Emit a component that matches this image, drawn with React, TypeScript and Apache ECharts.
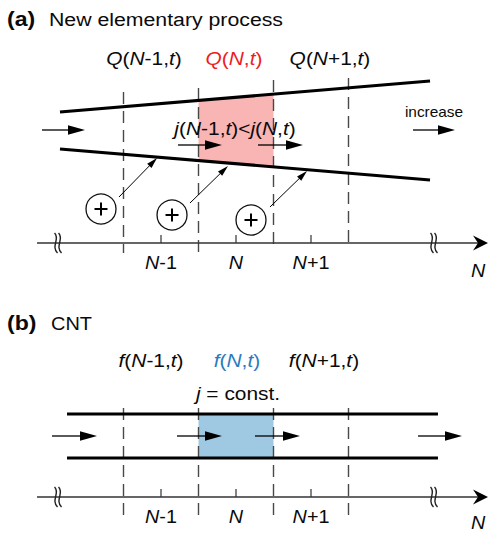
import React, { useEffect, useRef } from 'react';
import * as echarts from 'echarts';

// ---- scales: x in cell units (cell N at 0), y in diagram units (0 = top, downwards)
const X_MIN = -3.1467;
const X_MAX = 3.36;
const Y_MIN = 0;
const Y_MAX = 534;

// ---- shared cell structure
const cellCenters = [-1, 0, 1];
const cellLabels = ['{i|N}-1', '{i|N}', '{i|N}+1'];
const boundaries = [-1.5, -0.5, 0.5, 1.5];

// ---- panel (a): new elementary process
const qLabelX = [-1.227, -0.027, 1.253];
const qLabelY = 58;
const qLabels = ['{i|Q}({i|N}-1,{i|t})', '{r|Q}{rn|(}{r|N}{rn|,}{r|t}{rn|)}', '{i|Q}({i|N}+1,{i|t})'];
const wallsA = [
  [-2.347, 112, 2.587, 81],
  [-2.347, 149, 2.587, 180],
];
const boundaryTopA = [92, 88, 80, 78];
const boundaryBottomA = [253, 252, 248, 247];
const shadeA = [[-0.5, 100.4], [0.5, 94.1], [0.5, 166.9], [-0.5, 160.6]];
const fluxArrowsA = [
  [-2.587, 130, -2.013, 130],
  [2.36, 130, 2.92, 130],
  [-0.773, 145, -0.187, 145],
  [0.293, 145, 0.893, 145],
];
const sourceArrowsA = [
  [-1.56, 197, -1.053, 158],
  [-0.613, 203, -0.107, 166],
  [0.453, 207, 0.947, 171],
];
const monomersA = [[-1.8, 209], [-0.853, 215], [0.2, 220]];
const formulaA = [[-0.013, 128]];
const increaseA = [[2.64, 112]];
const axisYA = 243;
const cellLabelYA = 263;
const axisTitleA = [[3.227, 271]];

// ---- panel (b): CNT
const fLabelX = [-1.133, 0.013, 1.173];
const fLabelY = 360;
const fLabels = ['{i|f}({i|N}-1,{i|t})', '{b|f}{bn|(}{b|N}{bn|,}{b|t}{bn|)}', '{i|f}({i|N}+1,{i|t})'];
const wallsB = [
  [-2.253, 414, 2.693, 414],
  [-2.253, 458, 2.693, 458],
];
const boundaryTopB = [408, 408, 408, 408];
const boundaryBottomB = [517, 517, 517, 517];
const shadeB = [[-0.5, 414], [0.5, 414], [0.5, 458], [-0.5, 458]];
const fluxArrowsB = [
  [-2.453, 436, -1.853, 436],
  [-0.787, 436, -0.187, 436],
  [0.253, 436, 0.853, 436],
  [2.427, 436, 3.013, 436],
];
const constB = [[0.027, 393]];
const axisYB = 497;
const cellLabelYB = 517;
const axisTitleB = [[3.227, 523]];

// ---- shared axis extents
const axisStartX = -2.653;
const axisEndX = 3.36;
const breakMarksX = [-2.373, 2.64];

const FONT = 'Liberation Sans, Arial, Helvetica, sans-serif';
const INK = '#0a0a0a';

function richStyles(size: number) {
  return {
    i: { fontStyle: 'italic', fontSize: size, fontFamily: FONT, fill: INK },
    r: { fontStyle: 'italic', fontSize: size, fontFamily: FONT, fill: '#ee1c25' },
    rn: { fontSize: size, fontFamily: FONT, fill: '#ee1c25' },
    b: { fontStyle: 'italic', fontSize: size, fontFamily: FONT, fill: '#2b7bbd' },
    bn: { fontSize: size, fontFamily: FONT, fill: '#2b7bbd' },
  };
}

function textSeries(points: number[][], texts: string[], size: number, scaleX = 1.1, extra: any = {}) {
  return {
    type: 'custom',
    data: points,
    z: 20,
    renderItem: (params: any, api: any) => {
      const p = api.coord([api.value(0), api.value(1)]);
      return {
        type: 'text',
        x: p[0],
        y: p[1],
        scaleX,
        style: {
          text: texts[params.dataIndex],
          fontSize: size,
          fontFamily: FONT,
          fill: INK,
          align: 'center',
          verticalAlign: 'middle',
          rich: richStyles(size),
          ...extra,
        },
      };
    },
  };
}

function segmentSeries(data: number[][], style: any, z = 5) {
  return {
    type: 'custom',
    data,
    z,
    renderItem: (_p: any, api: any) => {
      const a = api.coord([api.value(0), api.value(1)]);
      const b = api.coord([api.value(2), api.value(3)]);
      return { type: 'line', shape: { x1: a[0], y1: a[1], x2: b[0], y2: b[1] }, style };
    },
  };
}

function arrowSeries(data: number[][], headLen: number, headW: number, lw: number, z = 10) {
  return {
    type: 'custom',
    data,
    z,
    renderItem: (_p: any, api: any) => {
      const a = api.coord([api.value(0), api.value(1)]);
      const b = api.coord([api.value(2), api.value(3)]);
      const dx = b[0] - a[0];
      const dy = b[1] - a[1];
      const len = Math.hypot(dx, dy) || 1;
      const ux = dx / len;
      const uy = dy / len;
      const bx = b[0] - ux * headLen;
      const by = b[1] - uy * headLen;
      const nx = -uy;
      const ny = ux;
      return {
        type: 'group',
        children: [
          {
            type: 'line',
            shape: { x1: a[0], y1: a[1], x2: bx + ux, y2: by + uy },
            style: { stroke: '#000', lineWidth: lw },
          },
          {
            type: 'polygon',
            shape: {
              points: [
                [b[0], b[1]],
                [bx + (nx * headW) / 2, by + (ny * headW) / 2],
                [bx - (nx * headW) / 2, by - (ny * headW) / 2],
              ],
            },
            style: { fill: '#000' },
          },
        ],
      };
    },
  };
}

function polygonSeries(points: number[][], color: string) {
  return {
    type: 'custom',
    data: [0],
    z: 1,
    renderItem: (_p: any, api: any) => ({
      type: 'polygon',
      shape: { points: points.map((q) => api.coord(q)) },
      style: { fill: color },
    }),
  };
}

function boundarySeries(top: number[], bottom: number[]) {
  return segmentSeries(
    boundaries.map((x, i) => [x, top[i], x, bottom[i]]),
    { stroke: '#484848', lineWidth: 1.4, lineDash: [12, 7] },
    3
  );
}

function numberLineSeries(y: number) {
  return {
    type: 'custom',
    data: [[axisStartX, y, axisEndX, y]],
    z: 6,
    renderItem: (_p: any, api: any) => {
      const a = api.coord([api.value(0), api.value(1)]);
      const b = api.coord([api.value(2), api.value(3)]);
      const children: any[] = [
        { type: 'line', shape: { x1: a[0], y1: a[1], x2: b[0] - 6, y2: b[1] }, style: { stroke: '#333', lineWidth: 1.3 } },
        {
          type: 'polygon',
          shape: {
            points: [
              [b[0] - 15, b[1] - 7.5],
              [b[0], b[1]],
              [b[0] - 15, b[1] + 7.5],
              [b[0] - 10, b[1]],
            ],
          },
          style: { fill: '#000' },
        },
      ];
      cellCenters.forEach((c) => {
        const t = api.coord([c, y]);
        children.push({ type: 'line', shape: { x1: t[0], y1: t[1], x2: t[0], y2: t[1] - 8 }, style: { stroke: '#333', lineWidth: 1.2 } });
      });
      breakMarksX.forEach((bxv) => {
        const m = api.coord([bxv, y]);
        [-2, 2].forEach((off) => {
          const cx = m[0] + off;
          const cy = m[1];
          children.push({
            type: 'bezierCurve',
            shape: {
              x1: cx - 1.5, y1: cy - 10,
              cpx1: cx + 4.5, cpy1: cy - 4,
              cpx2: cx - 5.5, cpy2: cy + 3,
              x2: cx + 1.5, y2: cy + 10,
            },
            style: { stroke: '#222', lineWidth: 1.4, fill: 'none' },
          });
        });
      });
      return { type: 'group', children };
    },
  };
}

function monomerSeries(points: number[][]) {
  return {
    type: 'custom',
    data: points,
    z: 12,
    renderItem: (_p: any, api: any) => {
      const c = api.coord([api.value(0), api.value(1)]);
      return {
        type: 'group',
        children: [
          { type: 'circle', shape: { cx: c[0], cy: c[1], r: 15 }, style: { fill: '#fff', stroke: '#111', lineWidth: 1.3 } },
          { type: 'line', shape: { x1: c[0] - 6.5, y1: c[1], x2: c[0] + 6.5, y2: c[1] }, style: { stroke: '#000', lineWidth: 2 } },
          { type: 'line', shape: { x1: c[0], y1: c[1] - 6.5, x2: c[0], y2: c[1] + 6.5 }, style: { stroke: '#000', lineWidth: 2 } },
        ],
      };
    },
  };
}

export default function App() {
  const ref = useRef<HTMLDivElement>(null);
  useEffect(() => {
    if (!ref.current) return;
    const chart = echarts.init(ref.current, undefined, { renderer: 'svg' });
    const wallStyle = { stroke: '#000', lineWidth: 3.2 };
    chart.setOption({
      animation: false,
      backgroundColor: '#fff',
      grid: { left: 0, right: 0, top: 0, bottom: 0 },
      xAxis: { type: 'value', min: X_MIN, max: X_MAX, show: false },
      yAxis: { type: 'value', min: Y_MIN, max: Y_MAX, inverse: true, show: false },
      graphic: [
        { type: 'text', x: 7, y: 19, scaleX: 1.1, style: { text: '(a)', fontSize: 21, fontWeight: 'bold', fontFamily: FONT, fill: INK, verticalAlign: 'middle' } },
        { type: 'text', x: 49, y: 19, scaleX: 1.12, style: { text: 'New elementary process', fontSize: 19, fontFamily: FONT, fill: INK, verticalAlign: 'middle' } },
        { type: 'text', x: 7, y: 323, scaleX: 1.1, style: { text: '(b)', fontSize: 21, fontWeight: 'bold', fontFamily: FONT, fill: INK, verticalAlign: 'middle' } },
        { type: 'text', x: 51, y: 323, scaleX: 1.05, style: { text: 'CNT', fontSize: 19, fontFamily: FONT, fill: INK, verticalAlign: 'middle' } },
      ],
      series: [
        // panel (a)
        polygonSeries(shadeA, '#f9b4b4'),
        boundarySeries(boundaryTopA, boundaryBottomA),
        segmentSeries(wallsA, wallStyle, 8),
        arrowSeries(fluxArrowsA, 17, 9.5, 1.3),
        arrowSeries(sourceArrowsA, 11, 6, 1),
        monomerSeries(monomersA),
        numberLineSeries(axisYA),
        textSeries(qLabelX.map((x) => [x, qLabelY]), qLabels, 19),
        textSeries(formulaA, ['{i|j}({i|N}-1,{i|t})<{i|j}({i|N},{i|t})'], 19),
        textSeries(increaseA, ['increase'], 14),
        textSeries(cellCenters.map((x) => [x, cellLabelYA]), cellLabels, 18),
        textSeries(axisTitleA, ['{i|N}'], 18),
        // panel (b)
        polygonSeries(shadeB, '#9fc9e3'),
        boundarySeries(boundaryTopB, boundaryBottomB),
        segmentSeries(wallsB, wallStyle, 8),
        arrowSeries(fluxArrowsB, 17, 9.5, 1.3),
        numberLineSeries(axisYB),
        textSeries(fLabelX.map((x) => [x, fLabelY]), fLabels, 19),
        textSeries(constB, ['{i|j} = const.'], 19),
        textSeries(cellCenters.map((x) => [x, cellLabelYB]), cellLabels, 18),
        textSeries(axisTitleB, ['{i|N}'], 18),
      ],
    });
    return () => chart.dispose();
  }, []);
  return <div ref={ref} style={{ position: 'fixed', left: 0, top: 0, width: 488, height: 534 }} />;
}
